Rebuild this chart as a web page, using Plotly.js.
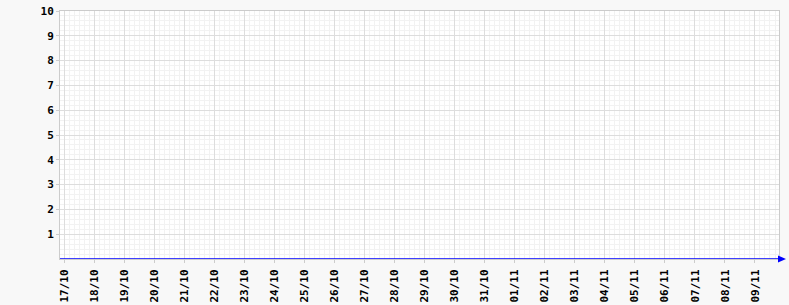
<!DOCTYPE html>
<html>
<head>
<meta charset="utf-8">
<script src="https://cdn.plot.ly/plotly-3.0.1.min.js"></script>
<style>html,body{margin:0;padding:0;background:#f8f8f8;}</style>
</head>
<body>
<div id="chart" style="width:789px;height:305px;"></div>
<script>
const dates = ['2023-10-16 20:24','2023-10-17','2023-10-18','2023-10-19','2023-10-20','2023-10-21','2023-10-22','2023-10-23','2023-10-24','2023-10-25','2023-10-26','2023-10-27','2023-10-28','2023-10-29','2023-10-30','2023-10-31','2023-11-01','2023-11-02','2023-11-03','2023-11-04','2023-11-05','2023-11-06','2023-11-07','2023-11-08','2023-11-09','2023-11-09 19:12'];
const values = [0,0,0,0,0,0,0,0,0,0,0,0,0,0,0,0,0,0,0,0,0,0,0,0,0,0];
const yTicks = [1,2,3,4,5,6,7,8,9,10];
const xRange = ['2023-10-16 20:24','2023-11-09 19:12'];

const tickFont = {family:'DejaVu Sans Mono', size:11, color:'#000000', weight:'bold'};

const trace = {
  x: dates, y: values, type:'scatter', mode:'lines',
  line:{color:'#0000ff', width:1.5}, cliponaxis:false, hoverinfo:'skip'
};

const layout = {
  width:789, height:305,
  margin:{l:60, r:10, t:11, b:46, pad:0},
  paper_bgcolor:'#f8f8f8', plot_bgcolor:'#ffffff',
  showlegend:false,
  xaxis:{
    type:'date', range:xRange,
    dtick:86400000, tick0:'2023-10-17', tickformat:'%d/%m', tickangle:-90,
    tickfont:tickFont, ticklabelstandoff:2,
    ticks:'outside', ticklen:3, tickcolor:'#cccccc', tickwidth:1,
    showgrid:true, gridcolor:'#dddddd', gridwidth:1,
    minor:{dtick:14400000, showgrid:true, gridcolor:'#f2f2f2', ticks:''},
    showline:true, linecolor:'#cccccc', linewidth:1, mirror:true,
    zeroline:false, fixedrange:true
  },
  yaxis:{
    range:[0,10], tickvals:yTicks,
    tickfont:tickFont,
    ticks:'outside', ticklen:3, tickcolor:'#cccccc', tickwidth:1,
    showgrid:true, gridcolor:'#dddddd', gridwidth:1,
    minor:{dtick:0.2, showgrid:true, gridcolor:'#f2f2f2', ticks:''},
    showline:true, linecolor:'#cccccc', linewidth:1, mirror:true,
    zeroline:false, fixedrange:true
  },
  shapes:[{
    type:'path', xref:'paper', yref:'paper',
    path:'M 0.9986,0.0141 L 1.0097,0 L 0.9986,-0.0141 Z',
    fillcolor:'#0000ff', line:{color:'#0000ff', width:0}, layer:'above'
  }]
};

Plotly.newPlot('chart', [trace], layout, {displayModeBar:false, staticPlot:true});
</script>
</body>
</html>
